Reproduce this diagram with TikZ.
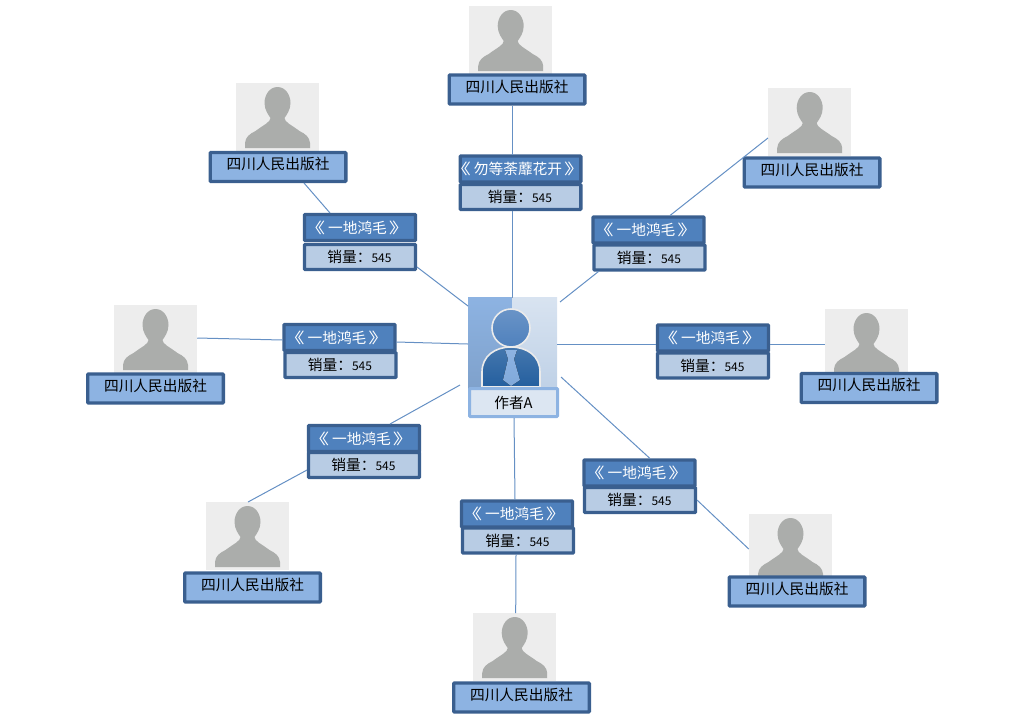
\documentclass[tikz,border=0pt]{standalone}
\usepackage{fontspec}
\setmainfont{Noto Sans CJK SC}
\usetikzlibrary{calc}
\definecolor{boxedge}{HTML}{3A5F8F}
\definecolor{pubfill}{HTML}{8DB3E2}
\definecolor{headfill}{HTML}{4F81BD}
\definecolor{salefill}{HTML}{B8CCE4}
\definecolor{linkcol}{HTML}{6590C4}
\definecolor{photobg}{HTML}{EDEDED}
\definecolor{avatarcol}{HTML}{ABADAB}
\definecolor{labelfill}{HTML}{DCE6F2}
\definecolor{suitcol}{HTML}{245F9F}
\tikzset{
  x=1pt,y=-1pt,
  link/.style={draw=linkcol,line width=1pt},
  photo/.style={fill=photobg,draw=none,minimum width=83.5pt,minimum height=68pt,inner sep=0pt,outer sep=0pt},
  pub/.style={draw=boxedge,fill=pubfill,line width=3.4pt,rounded corners=0.8pt,minimum width=135.6pt,minimum height=29pt,inner sep=0pt,outer sep=1.5pt,text=black,text height=14pt,text depth=9pt,font=\fontsize{14.7pt}{16pt}\selectfont},
  head/.style={draw=boxedge,fill=headfill,line width=3.4pt,rounded corners=0.8pt,minimum width=111pt,minimum height=26pt,inner sep=0pt,outer sep=1.5pt,text=white,font=\fontsize{14.7pt}{16pt}\selectfont},
  sale/.style={draw=boxedge,fill=salefill,line width=3.4pt,rounded corners=0.8pt,minimum width=111pt,minimum height=25pt,inner sep=0pt,outer sep=1.5pt,text=black,font=\fontsize{14.7pt}{16pt}\selectfont},
  caption/.style={draw=pubfill,fill=labelfill,line width=3pt,rounded corners=0.8pt,minimum width=88pt,minimum height=28pt,inner sep=0pt,outer sep=1.5pt,text=black,font=\fontsize{14.7pt}{16pt}\selectfont},
  avatar/.pic={
    \fill[avatarcol] (0,-30) .. controls (8,-30) and (13,-22) .. (13,-14)
      .. controls (13,-7) and (9,-2) .. (7,1) .. controls (7,5) and (14,8) .. (22,14)
      .. controls (28,17) and (32,20) .. (32.5,26) -- (32.5,31) -- (-32.5,31) -- (-32.5,26)
      .. controls (-32,20) and (-28,17) .. (-22,14) .. controls (-14,8) and (-7,5) .. (-7,1)
      .. controls (-9,-2) and (-13,-7) .. (-13,-14) .. controls (-13,-22) and (-8,-30) .. (0,-30) -- cycle;
  }
}
\newcommand{\saletext}{\kern-1pt 销量：{\fontsize{12pt}{14pt}\selectfont 545}}
\newcommand{\pubname}{四川人民出版社}
\newcommand{\booktitle}[1]{\kern-6pt\makebox[14.7pt][r]{\scalebox{1.4}[1]{《}}\kern3pt #1\kern2pt\makebox[14.7pt][l]{\scalebox{1.4}[1]{》}}}
\newcommand{\bookone}{\booktitle{一地鸿毛}}
\begin{document}
\begin{tikzpicture}
\useasboundingbox (0,0) rectangle (1024,724);
% photos
\node[photo] (pT)  at (510.7,40)  {};
\node[photo] (pTL) at (277.5,117) {};
\node[photo] (pTR) at (809.7,122) {};
\node[photo] (pL)  at (155.5,339) {};
\node[photo] (pR)  at (866.5,343) {};
\node[photo] (pBL) at (247.5,536) {};
\node[photo] (pB)  at (514.7,647) {};
\node[photo] (pBR) at (790.5,548) {};
\foreach \n in {pT,pTL,pTR,pL,pR,pBL,pB,pBR}{ \pic at (\n.center) {avatar}; }
% publisher boxes
\node[pub] (nT)  at (517,89.5)  {\pubname};
\node[pub] (nTL) at (278,167)   {\pubname};
\node[pub] (nTR) at (812,172.5) {\pubname};
\node[pub] (nL)  at (155.5,388.5) {\pubname};
\node[pub] (nR)  at (869,388)   {\pubname};
\node[pub] (nBL) at (252.5,587.5) {\pubname};
\node[pub] (nB)  at (521.5,697.5) {\pubname};
\node[pub] (nBR) at (797,591.5) {\pubname};
% book boxes
\node[sale,minimum width=120.6pt] (sT) at (520.5,197) {\saletext};
\node[head,minimum width=120.6pt] (hT) at (520.5,169) {\booktitle{勿等荼蘼花开}};
\node[sale] (sTL) at (360,257) {\saletext};
\node[head] (hTL) at (360,227.5) {\bookone};
\node[sale] (sTR) at (649.5,257.5) {\saletext};
\node[head] (hTR) at (648.5,230) {\bookone};
\node[sale] (sL) at (340.5,365) {\saletext};
\node[head] (hL) at (339.5,337.5) {\bookone};
\node[sale] (sR) at (713,365.5) {\saletext};
\node[head] (hR) at (713,338) {\bookone};
\node[sale] (sBL) at (364,465) {\saletext};
\node[head] (hBL) at (364,438.5) {\bookone};
\node[sale] (sB) at (518,540.5) {\saletext};
\node[head] (hB) at (517,514) {\bookone};
\node[sale] (sBR) at (640,500) {\saletext};
\node[head] (hBR) at (639.5,473) {\bookone};
% centre portrait
\node[minimum width=89pt,minimum height=91pt,inner sep=0pt,outer sep=0pt] (ctr) at (512.5,342.5) {};
\fill[top color=pubfill,bottom color=pubfill!90!black] (ctr.north west) rectangle (ctr.south);
\fill[top color=labelfill!90!salefill,bottom color=salefill!90!white] (ctr.north) rectangle (ctr.south east);
\fill[top color=suitcol!85!white,bottom color=suitcol,draw=white!92!black,line width=1.6pt]
  (482,387) -- (482,372) .. controls (482,356) and (495,347) .. (511,347) .. controls (527,347) and (540,356) .. (540,372) -- (540,387) -- cycle;
\fill[top color=pubfill,bottom color=pubfill!80!headfill]
  (505,350) -- (517,350) -- (514,359) -- (520,380) -- (511,386) -- (503,380) -- (508,359) -- cycle;
\draw[top color=headfill!85!white,bottom color=headfill,draw=white!92!black,line width=1.6pt] (511,328) circle (19);
\node[caption] (lab) at (513.5,402.5) {作者A};
% connectors
\draw[link] ($(nT.south)+(-5,0)$) -- ($(hT.north)+(-8.5,0)$);
\draw[link] ($(sT.south)+(-8,0)$) -- (ctr.north);
\draw[link] ($(nTL.south)+(26,0)$) -- ($(hTL.north)+(-30,0)$);
\draw[link] ($(sTL.east)+(0,10)$) -- ($(ctr.west)+(0,-36.5)$);
\draw[link] ($(pTR.west)+(0,16)$) -- ($(hTR.north)+(21.5,0)$);
\draw[link] ($(sTR.south)+(-51,0)$) -- ($(ctr.east)+(3,-40.5)$);
\draw[link] ($(pL.east)+(0,-1)$) -- ($(hL.west)+(0,2.5)$);
\draw[link] ($(hL.east)+(0,4.5)$) -- ($(ctr.west)+(0,1.5)$);
\draw[link] ($(ctr.east)+(0,1.5)$) -- ($(hR.west)+(0,6)$);
\draw[link] ($(hR.east)+(0,6)$) -- ($(pR.west)+(0,1)$);
\draw[link] ($(ctr.south west)+(-8,-3)$) -- ($(hBL.north)+(26,0)$);
\draw[link] ($(sBL.west)+(0,5)$) -- ($(pBL.north)+(0.5,0)$);
\draw[link] ($(lab.south)+(0.5,0)$) -- ($(hB.north)+(-2,0)$);
\draw[link] ($(sB.south)+(-2,0)$) -- ($(pB.north)+(1,0)$);
\draw[link] ($(ctr.east)+(4,34.5)$) -- ($(hBR.north)+(10.5,0)$);
\draw[link] (sBR.east) -- ($(pBR.west)+(0,1)$);
\end{tikzpicture}
\end{document}
